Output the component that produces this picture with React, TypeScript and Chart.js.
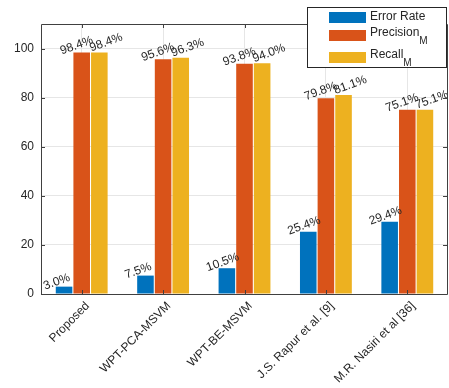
import React, { useEffect, useRef } from "react";
import { Chart, registerables } from "chart.js";

Chart.register(...registerables);

const categories = ["Proposed", "WPT-PCA-MSVM", "WPT-BE-MSVM", "J.S. Rapur et al. [9]", "M.R. Nasiri et al [36]"];
const errorRate = [3.0, 7.5, 10.5, 25.4, 29.4];
const precisionM = [98.4, 95.6, 93.8, 79.8, 75.1];
const recallM = [98.4, 96.3, 94.0, 81.1, 75.1];
const yTicks = [0, 20, 40, 60, 80, 100];
const legendItems = [
  { text: "Error Rate", sub: "" },
  { text: "Precision", sub: "M" },
  { text: "Recall", sub: "M" },
];
const colors = ["#0072BD", "#D95319", "#EDB120"];
const FONT = "'Liberation Sans', Arial, sans-serif";
const labelDx = [-19, -20, -8];
const labelDy = [3, 2, -1];

const boxPlugin = {
  id: "boxPlugin",
  afterDraw(chart: any) {
    const { ctx, chartArea: a } = chart;
    const xs = chart.scales.x;
    const ys = chart.scales.y;
    ctx.save();
    ctx.strokeStyle = "#404040";
    ctx.lineWidth = 1;
    ctx.beginPath();
    ctx.rect(Math.round(a.left) + 0.5, Math.round(a.top) + 0.5, Math.round(a.right - a.left) - 1, Math.round(a.bottom - a.top));
    ctx.stroke();
    ctx.beginPath();
    for (const v of yTicks) {
      const y = Math.round(ys.getPixelForValue(v)) + 0.5;
      ctx.moveTo(a.left, y);
      ctx.lineTo(a.left + 4, y);
      ctx.moveTo(a.right - 1, y);
      ctx.lineTo(a.right - 5, y);
    }
    for (let i = 0; i < categories.length; i++) {
      const x = Math.round(xs.getPixelForValue(i)) + 0.5;
      ctx.moveTo(x, a.bottom);
      ctx.lineTo(x, a.bottom - 4);
      ctx.moveTo(x, a.top);
      ctx.lineTo(x, a.top + 4);
    }
    ctx.stroke();
    ctx.restore();
  },
};

const labelPlugin = {
  id: "labelPlugin",
  afterDatasetsDraw(chart: any) {
    const { ctx } = chart;
    ctx.save();
    ctx.fillStyle = "#262626";
    ctx.font = `12px ${FONT}`;
    chart.data.datasets.forEach((ds: any, di: number) => {
      const meta = chart.getDatasetMeta(di);
      meta.data.forEach((bar: any, i: number) => {
        const x = bar.x + labelDx[di];
        const y = bar.y + labelDy[di];
        ctx.save();
        ctx.translate(x, y);
        ctx.rotate((-20 * Math.PI) / 180);
        ctx.textAlign = "left";
        ctx.textBaseline = "alphabetic";
        ctx.fillText(ds.data[i].toFixed(1) + "%", 0, 0);
        ctx.restore();
      });
    });
    ctx.restore();
  },
};

const legendPlugin = {
  id: "legendPlugin",
  afterDraw(chart: any) {
    const { ctx } = chart;
    ctx.save();
    const lx = 307, ly = 7, lw = 140, lh = 61;
    ctx.fillStyle = "#ffffff";
    ctx.fillRect(lx, ly, lw, lh);
    ctx.strokeStyle = "#262626";
    ctx.lineWidth = 1;
    ctx.strokeRect(lx + 0.5, ly + 0.5, lw - 1, lh - 1);
    const rows = [17, 35, 57];
    legendItems.forEach((it, i) => {
      const cy = rows[i];
      ctx.fillStyle = colors[i];
      ctx.fillRect(329, cy - 5, 37, 11);
      ctx.fillStyle = "#262626";
      ctx.font = `12px ${FONT}`;
      ctx.textAlign = "left";
      ctx.textBaseline = "middle";
      ctx.fillText(it.text, 370, cy - (it.sub ? 2 : 0));
      if (it.sub) {
        const w = ctx.measureText(it.text).width;
        ctx.font = `10px ${FONT}`;
        ctx.fillText(it.sub, 370 + w, cy + 6);
      }
    });
    ctx.restore();
  },
};

export default function App() {
  const ref = useRef<HTMLCanvasElement | null>(null);
  useEffect(() => {
    if (!ref.current) return;
    const chart = new Chart(ref.current, {
      type: "bar",
      data: {
        labels: categories,
        datasets: [
          { label: "Error Rate", data: errorRate, backgroundColor: colors[0] },
          { label: "PrecisionM", data: precisionM, backgroundColor: colors[1] },
          { label: "RecallM", data: recallM, backgroundColor: colors[2] },
        ],
      },
      options: {
        responsive: false,
        animation: false,
        devicePixelRatio: 1,
        layout: { padding: { top: 24, right: 1, left: 0, bottom: 0 } },
        datasets: { bar: { categoryPercentage: 0.65, barPercentage: 0.94 } },
        plugins: { legend: { display: false }, tooltip: { enabled: false } },
        scales: {
          x: {
            grid: { color: "#e6e6e6", drawTicks: false, offset: false },
            border: { display: false },
            ticks: {
              color: "#262626",
              font: { family: FONT, size: 12 },
              maxRotation: 45,
              minRotation: 45,
              autoSkip: false,
              padding: 5,
              labelOffset: 6,
            },
            afterFit(scale: any) {
              scale.height = 94;
            },
          },
          y: {
            min: 0,
            max: 110,
            grid: { color: "#e6e6e6", drawTicks: false },
            border: { display: false },
            ticks: {
              stepSize: 20,
              color: "#262626",
              font: { family: FONT, size: 12 },
              padding: 7,
            },
            afterBuildTicks(scale: any) {
              scale.ticks = yTicks.map((v) => ({ value: v }));
            },
            afterFit(scale: any) {
              scale.width = 41;
            },
          },
        },
      },
      plugins: [boxPlugin, labelPlugin, legendPlugin],
    });
    return () => chart.destroy();
  }, []);
  return (
    <div style={{ position: "fixed", left: 0, top: 0, width: 449, height: 388, background: "#fff" }}>
      <canvas ref={ref} width={449} height={388} />
    </div>
  );
}
